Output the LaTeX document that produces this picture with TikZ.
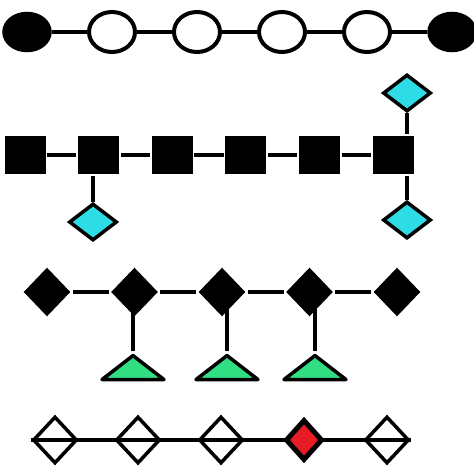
\documentclass[tikz,border=0pt]{standalone}
\usepackage{tikz}
\usepackage{xcolor}
\usetikzlibrary{positioning,shapes.geometric,backgrounds}

\definecolor{cyanfill}{RGB}{45,220,228}
\definecolor{greenfill}{RGB}{50,222,130}
\definecolor{redfill}{RGB}{232,28,36}

\begin{document}
\begin{tikzpicture}[x=1pt, y=-1pt, line width=3.5pt,
		blackoval/.style={draw, ellipse, fill=black, minimum width=46pt, minimum height=37pt, inner sep=0pt},
		whiteoval/.style={draw, ellipse, fill=white, line width=4pt, minimum width=46pt, minimum height=40pt, inner sep=0pt},
		blacksq/.style={fill=black, minimum width=41pt, minimum height=38pt, inner sep=0pt},
		cyandia/.style={draw, diamond, fill=cyanfill, minimum width=48pt, minimum height=37pt, inner sep=0pt},
		blackdia/.style={fill=black, diamond, minimum width=48pt, minimum height=50pt, inner sep=0pt},
		greentri/.style={draw, fill=greenfill, isosceles triangle, isosceles triangle stretches,
			shape border rotate=90, minimum width=62pt, minimum height=24pt, inner sep=0pt, line join=round},
		opendia/.style={draw, diamond, minimum width=44pt, minimum height=47pt, inner sep=0pt},
		reddia/.style={draw, diamond, fill=redfill, line width=5pt, minimum width=37pt, minimum height=41pt, inner sep=0pt}]
			\useasboundingbox (0,0) rectangle (474,469);

			% ovals
			\begin{scope}[node distance=85pt]
				\node[blackoval] (e1) at (27,32) {};
				\node[whiteoval, right of=e1] (e2) {};
				\node[whiteoval, right of=e2] (e3) {};
				\node[whiteoval, right of=e3] (e4) {};
				\node[whiteoval, right of=e4] (e5) {};
				\node[blackoval, right of=e5] (e6) {};
				\draw[line width=4pt] (e1)--(e2)--(e3)--(e4)--(e5)--(e6);
			\end{scope}

			% squares
			\begin{scope}[node distance=73.6pt]
				\node[blacksq] (s1) at (25,155) {};
				\node[blacksq, right of=s1] (s2) {};
				\node[blacksq, right of=s2] (s3) {};
				\node[blacksq, right of=s3] (s4) {};
				\node[blacksq, right of=s4] (s5) {};
				\node[blacksq, right of=s5] (s6) {};
				\node[cyandia] (c1) at (93,222) {};
				\node[cyandia] (c2) at (407,93) {};
				\node[cyandia] (c3) at (407,220) {};
				\draw (s1)--(s2)--(s3)--(s4)--(s5)--(s6);
				\draw (c1.north)--(c1 |- s2.south);
				\draw (c2.south)--(c2 |- s6.north);
				\draw (c3.north)--(c3 |- s6.south);
			\end{scope}

			% diamonds with triangles
			\begin{scope}[node distance=87.5pt]
				\node[blackdia] (b1) at (47,292) {};
				\node[blackdia, right of=b1] (b2) {};
				\node[blackdia, right of=b2] (b3) {};
				\node[blackdia, right of=b3] (b4) {};
				\node[blackdia, right of=b4] (b5) {};
				\node[greentri, anchor=apex] (g1) at (133,351) {};
				\node[greentri, anchor=apex] (g2) at (227,351) {};
				\node[greentri, anchor=apex] (g3) at (315,351) {};
				\draw (b1)--(b2)--(b3)--(b4)--(b5);
				\draw (g1.apex)--(g1.apex |- b2);
				\draw (g2.apex)--(g2.apex |- b3);
				\draw (g3.apex)--(g3.apex |- b4);
			\end{scope}

			% open diamonds
			\begin{scope}[node distance=83pt]
				\node[opendia] (w1) at (55,440) {};
				\node[opendia, right of=w1] (w2) {};
				\node[opendia, right of=w2] (w3) {};
				\node[reddia, right of=w3] (w4) {};
				\node[opendia, right of=w4] (w5) {};
				\begin{scope}[on background layer]
					\draw[line width=4pt] (w1.west)--(w5.east);
				\end{scope}
			\end{scope}
		\end{tikzpicture}
\end{document}
